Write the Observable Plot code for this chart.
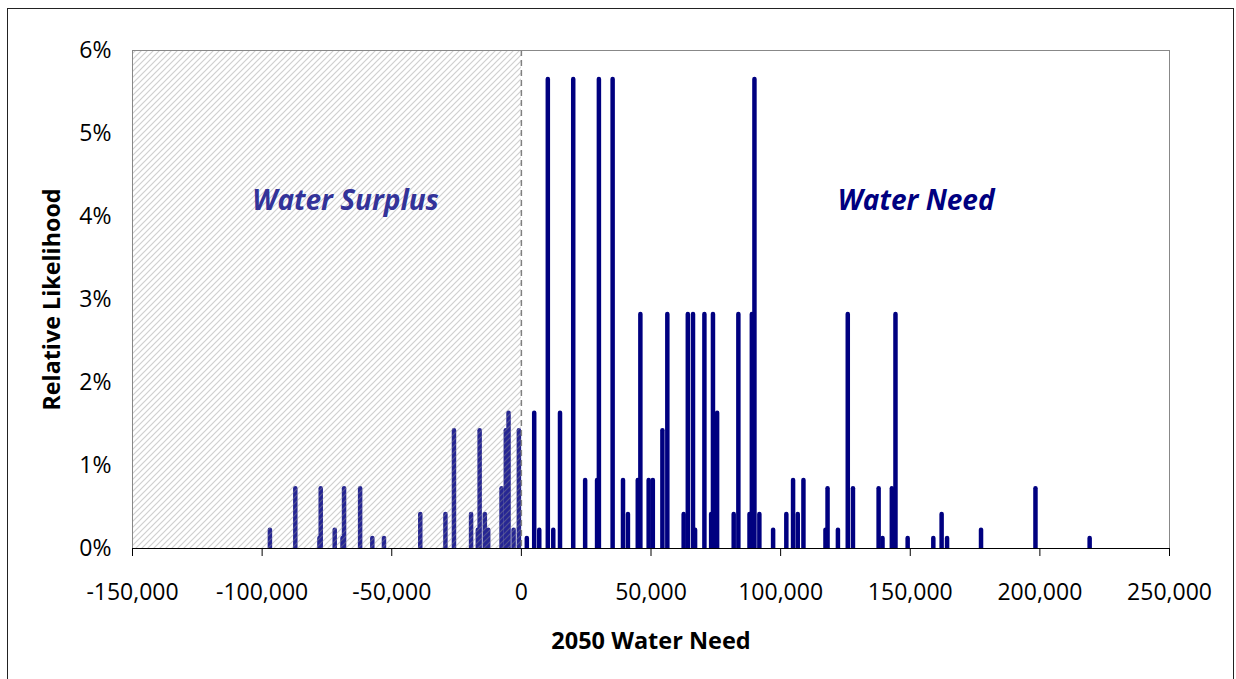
<!DOCTYPE html>
<html><head><meta charset="utf-8">
<script src="https://cdn.jsdelivr.net/npm/d3@7"></script>
<script src="https://cdn.jsdelivr.net/npm/@observablehq/plot@0.6"></script>
<style>
body{margin:0;background:#fff}
#wrap{position:relative;width:1236px;height:679px;overflow:hidden;background:#fff}
#border{position:absolute;left:7px;top:8px;width:1227px;height:700px;border:1px solid #222;box-sizing:border-box;pointer-events:none}
</style></head>
<body><div id="wrap"><div id="border"></div></div>
<script>
// 2050 water need (x) and relative likelihood (y)
const needValues = [
  -97000, -87200, -77400, -77900, -72000, -68400, -69000, -62200, -57500, -53000,
  -39000, -29300, -26000, -19400, -16800, -16100, -14100, -12800, -7650, -6000,
  -4950, -3000, -965,
  2100, 4950, 6900, 10200, 12300, 14900, 20000, 24600, 29200, 29900,
  35200, 39200, 41100, 44900, 45900, 49100, 50700, 54400, 56300, 62600,
  64200, 66200, 67000, 70600, 73200, 73900, 75500, 81900, 83700, 88000,
  88900, 89900, 91800, 97100, 102200, 104800, 106600, 108800, 117300, 118100,
  122100, 125900, 127900, 137800, 139300, 142900, 144300, 149000, 158900, 162100,
  164200, 177300, 198300, 219200
];
const likelihoods = [
  0.0022, 0.0072, 0.0072, 0.0012, 0.0022, 0.0072, 0.0012, 0.0072, 0.0012, 0.0012,
  0.0041, 0.0041, 0.0142, 0.0041, 0.0022, 0.0142, 0.0041, 0.0022, 0.0072, 0.0142,
  0.0163, 0.0022, 0.0142,
  0.0012, 0.0163, 0.0022, 0.0565, 0.0022, 0.0163, 0.0565, 0.0082, 0.0082, 0.0565,
  0.0565, 0.0082, 0.0041, 0.0082, 0.0282, 0.0082, 0.0082, 0.0142, 0.0282, 0.0041,
  0.0282, 0.0282, 0.0022, 0.0282, 0.0041, 0.0282, 0.0163, 0.0041, 0.0282, 0.0041,
  0.0282, 0.0565, 0.0041, 0.0022, 0.0041, 0.0082, 0.0041, 0.0082, 0.0022, 0.0072,
  0.0022, 0.0282, 0.0072, 0.0072, 0.0012, 0.0072, 0.0282, 0.0012, 0.0012, 0.0041,
  0.0012, 0.0022, 0.0072, 0.0012
];
const xTicks = [-150000, -100000, -50000, 0, 50000, 100000, 150000, 200000, 250000];
const yTicks = [0, 0.01, 0.02, 0.03, 0.04, 0.05, 0.06];
const zones = [{from: -150000, to: 0}];
const annotationLabels = ["Water Surplus", "Water Need"];
const annotationX = [-67800, 152300];
const annotationY = [0.0419, 0.0419];
const annotationColors = ["#333399", "#000080"];
const xTitle = "2050 Water Need";
const yTitle = "Relative Likelihood";

const bars = needValues.map((x, i) => ({x, p: likelihoods[i]}));
const notes = annotationLabels.map((label, i) => ({label, x: annotationX[i], y: annotationY[i], color: annotationColors[i]}));

const chart = Plot.plot({
  width: 1236,
  height: 679,
  marginLeft: 132,
  marginRight: 67,
  marginTop: 50,
  marginBottom: 131,
  style: {fontFamily: "'Open Sans', sans-serif", fontSize: "23px", color: "#000", background: "transparent"},
  x: {domain: [-150000, 250000]},
  y: {domain: [0, 0.06]},
  marks: [
    Plot.ruleX(bars, {x: "x", y1: 0, y2: "p", stroke: "#000080", strokeWidth: 4.5, strokeLinecap: "round", clip: "frame"}),
    Plot.rect(zones, {x1: "from", x2: "to", fill: "url(#hatch)"}),
    Plot.ruleX([0], {stroke: "#808080", strokeWidth: 1.5, strokeDasharray: "6,4"}),
    Plot.frame({stroke: "#888"}),
    Plot.ruleY([0], {stroke: "#000", strokeWidth: 1.2}),
    Plot.axisX({ticks: xTicks, tickFormat: d => d.toLocaleString("en-US"), tickSize: 8, tickPadding: 27, label: null, fontSize: 23}),
    Plot.axisY({ticks: yTicks, tickFormat: d3.format(".0%"), tickSize: 0, tickPadding: 21, label: null, fontSize: 23}),
    Plot.text(notes, {x: "x", y: "y", text: "label", fill: "color", fontSize: 28, fontWeight: "bold", fontStyle: "italic"}),
    Plot.text([xTitle], {frameAnchor: "bottom", dy: 93, lineAnchor: "middle", textAnchor: "middle", fontSize: 23.5, fontWeight: "bold"}),
    Plot.text([yTitle], {frameAnchor: "left", dx: -80, rotate: -90, lineAnchor: "middle", textAnchor: "middle", fontSize: 23.3, fontWeight: "bold"})
  ]
});

d3.select(chart).insert("defs", ":first-child").html(
  '<pattern id="hatch" patternUnits="userSpaceOnUse" width="6" height="6">' +
  '<rect width="6" height="6" fill="#fff" fill-opacity="0.15"/>' +
  '<path d="M0,6L6,0M-1.5,1.5L1.5,-1.5M4.5,7.5L7.5,4.5" stroke="#8c8c8c" stroke-opacity="0.42" stroke-width="1.2"/>' +
  '</pattern>'
);
chart.style.position = "absolute";
chart.style.left = "0";
chart.style.top = "0";
document.getElementById("wrap").prepend(chart);
</script>
</body></html>
